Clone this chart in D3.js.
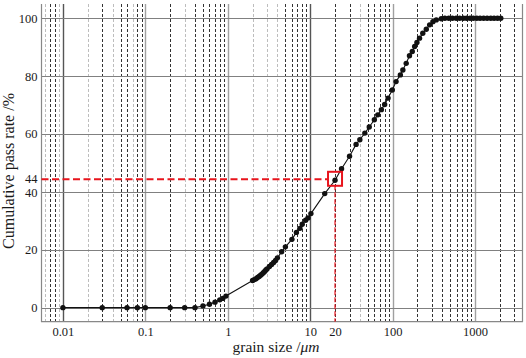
<!DOCTYPE html>
<html>
<head>
<meta charset="utf-8">
<script src="https://cdn.jsdelivr.net/npm/d3@7"></script>
<style>
  body { margin: 0; background: #fff; }
  svg text { font-family: "Liberation Serif", "Times New Roman", Times, serif !important; fill: #1a1a1a; }
</style>
</head>
<body>
<script>
// grain size (um) and cumulative pass rate (%)
var sizes = [0.01, 0.03, 0.06, 0.08, 0.1, 0.2, 0.3, 0.4, 0.5, 0.6, 0.7, 0.8, 0.87, 0.95,
  2.0, 2.1, 2.2, 2.3, 2.4, 2.5, 2.6, 2.7, 2.8, 2.9, 3.0, 3.2, 3.4, 3.6, 3.8, 4.0,
  4.5, 5.0, 6.0, 6.8, 7.5, 8.0, 8.8, 9.4, 10.2, 15, 20, 24, 30, 36, 40, 46, 52, 60, 66, 73, 80, 88,
  99, 110, 124, 133, 146, 160, 173, 185, 197, 212, 232, 256, 281, 308, 338, 389,
  430, 480, 530, 590, 650, 720, 790, 870, 950, 1050, 1150, 1270, 1400, 1550, 1700, 1870, 2050];
var passRate = [0, 0, 0, 0, 0, 0, 0, 0, 0.6, 1.2, 1.9, 2.7, 3.2, 4.0,
  9.4, 9.7, 10.0, 10.4, 10.8, 11.2, 11.6, 12.1, 12.5, 13.0, 13.4, 14.2, 14.9, 15.6, 16.3, 17.2,
  19.3, 21.0, 23.6, 26.0, 27.4, 28.8, 30.2, 31.0, 32.5, 39.4, 44.0, 48.0, 52.3, 56.4, 58.0, 60.3, 62.4, 64.9, 66.6, 68.4, 70.2, 72.4,
  75.2, 78.1, 80.4, 82.1, 84.4, 87.0, 88.5, 90.2, 91.6, 93.1, 94.8, 96.2, 97.7, 98.8, 99.4, 99.8,
  100, 100, 100, 100, 100, 100, 100, 100, 100, 100, 100, 100, 100, 100, 100, 100, 100];

var xTickLabels = [0.01, 0.1, 1, 10, 20, 100, 1000];
var yTickLabels = [0, 20, 40, 44, 60, 80, 100];
var yGrid = [0, 20, 40, 60, 80, 100];
var decades = [0.01, 0.1, 1, 10, 100, 1000];
var lightMinor = [0.006, 0.009, 0.02, 0.04, 0.07, 0.3, 2, 3, 4, 40];
var marked = {size: 20, rate: 44};

var serif = '"Liberation Serif", "Times New Roman", serif';
var W = 526, H = 358;
var svg = d3.select("body").append("svg").attr("width", W).attr("height", H);

var x = d3.scaleLog().domain([0.0055, 3760]).range([41.5, 522.5]);
var y = d3.scaleLinear().domain([-4.85, 104.9]).range([321.7, 4]);

// minor grid: 2..9 of every decade inside the domain
var minor = [];
[0.001, 0.01, 0.1, 1, 10, 100, 1000].forEach(function(d) {
  for (var k = 2; k <= 9; k++) {
    var v = +(d * k).toPrecision(3);
    if (v > x.domain()[0] && v < x.domain()[1]) minor.push(v);
  }
});

svg.append("g").selectAll("line").data(minor).enter().append("line")
  .attr("x1", function(d) { return Math.round(x(d)) + 0.5; })
  .attr("x2", function(d) { return Math.round(x(d)) + 0.5; })
  .attr("y1", y.range()[1]).attr("y2", y.range()[0])
  .attr("stroke", function(d) { return lightMinor.indexOf(d) >= 0 ? "#bdbdbd" : "#333"; })
  .attr("stroke-width", 1)
  .attr("stroke-dasharray", "3,2");

// decade lines
svg.append("g").selectAll("line").data(decades).enter().append("line")
  .attr("x1", function(d) { return Math.round(x(d)) + 0.5; })
  .attr("x2", function(d) { return Math.round(x(d)) + 0.5; })
  .attr("y1", y.range()[1]).attr("y2", y.range()[0])
  .attr("stroke", function(d) { return (d == 0.01 || d == 10) ? "#555" : "#a0a0a0"; })
  .attr("stroke-width", 1.4);

// horizontal grid
svg.append("g").selectAll("line").data(yGrid).enter().append("line")
  .attr("x1", x.range()[0]).attr("x2", x.range()[1])
  .attr("y1", function(d) { return Math.round(y(d)) + 0.5; })
  .attr("y2", function(d) { return Math.round(y(d)) + 0.5; })
  .attr("stroke", "#808080")
  .attr("stroke-width", 1.2);

// frame
svg.append("path")
  .attr("d", "M" + x.range()[0] + "," + y.range()[1] + "V" + y.range()[0] + "H" + x.range()[1] + "V" + y.range()[1])
  .attr("fill", "none").attr("stroke", "#888").attr("stroke-width", 1.2);

// reference lines at the marked point
svg.append("line")
  .attr("x1", x.range()[0]).attr("x2", x(marked.size) - 7)
  .attr("y1", y(marked.rate) - 1).attr("y2", y(marked.rate) - 1)
  .attr("stroke", "#e8141c").attr("stroke-width", 2).attr("stroke-dasharray", "7,3.5");
svg.append("line")
  .attr("x1", x(marked.size)).attr("x2", x(marked.size))
  .attr("y1", y(marked.rate) + 5).attr("y2", y.range()[0])
  .attr("stroke", "#e8141c").attr("stroke-width", 1.2).attr("stroke-dasharray", "5,2");

// data line and points
var data = sizes.map(function(s, i) { return {s: s, v: passRate[i]}; });
var line = d3.line().x(function(d) { return x(d.s); }).y(function(d) { return y(d.v); });
svg.append("path").datum(data).attr("d", line)
  .attr("fill", "none").attr("stroke", "#111").attr("stroke-width", 1.1);
svg.append("g").selectAll("circle").data(data).enter().append("circle")
  .attr("cx", function(d) { return x(d.s); })
  .attr("cy", function(d) { return y(d.v); })
  .attr("r", 2.7).attr("fill", "#111");

// red box
svg.append("rect")
  .attr("x", x(marked.size) - 7).attr("y", y(marked.rate) - 8.5)
  .attr("width", 14).attr("height", 14)
  .attr("fill", "none").attr("stroke", "#e8141c").attr("stroke-width", 2);

// axes labels
var xAxis = svg.append("g").attr("transform", "translate(0," + y.range()[0] + ")")
  .call(d3.axisBottom(x).tickValues(xTickLabels).tickSize(0).tickPadding(5)
    .tickFormat(function(d) { return String(d); }));
xAxis.attr("font-family", serif).attr("font-size", 12.5);
xAxis.select(".domain").remove();
xAxis.selectAll("text").style("font-family", serif).style("font-size", "12.5px");

var yAxis = svg.append("g").attr("transform", "translate(" + x.range()[0] + ",0)")
  .call(d3.axisLeft(y).tickValues(yTickLabels).tickSize(0).tickPadding(4));
yAxis.attr("font-family", serif).attr("font-size", 12.5);
yAxis.select(".domain").remove();
yAxis.selectAll("text").style("font-family", serif).style("font-size", "12.5px")
  .attr("dy", function(d) { return d == 44 ? "0.18em" : d == 40 ? "0.36em" : "0.32em"; });

// titles
svg.append("text")
  .attr("transform", "translate(14,171) rotate(-90)")
  .attr("text-anchor", "middle").style("font-size", "16px")
  .text("Cumulative pass rate /%");

var xt = svg.append("text")
  .attr("x", 276).attr("y", 352)
  .attr("text-anchor", "middle").style("font-size", "15.5px");
xt.append("tspan").text("grain size /");
xt.append("tspan").style("font-style", "italic").text("μm");
</script>
</body>
</html>
